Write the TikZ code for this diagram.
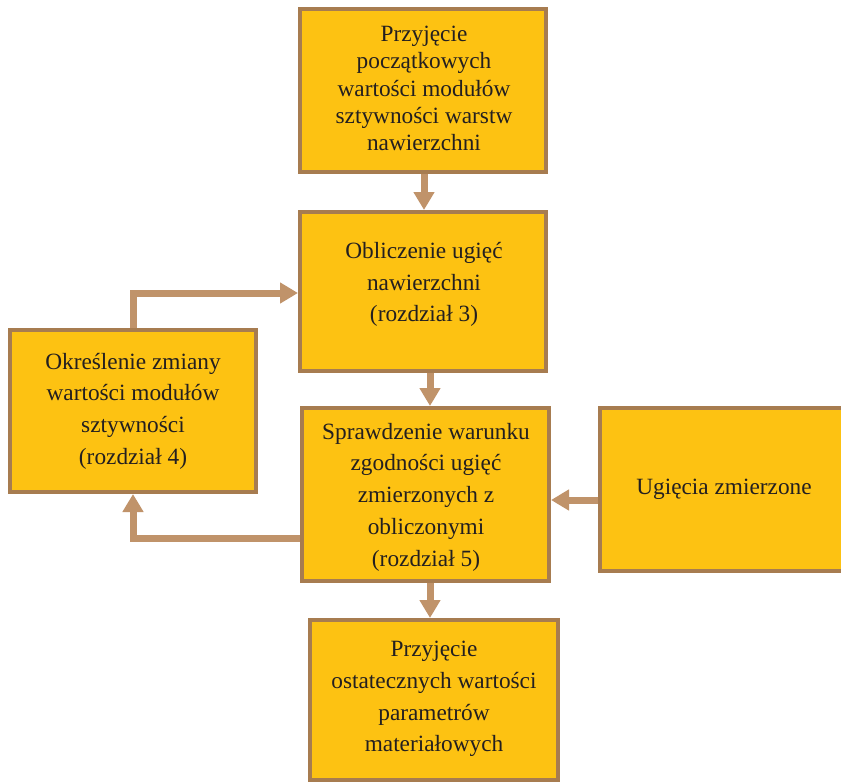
\documentclass[tikz,border=0pt]{standalone}
\usepackage{fontspec}
\setmainfont{Liberation Serif}
\usetikzlibrary{arrows.meta}
\definecolor{boxfill}{HTML}{FDC212}
\definecolor{boxline}{HTML}{A77C50}
\definecolor{arrowc}{HTML}{C0936A}
\definecolor{txt}{HTML}{231F20}
\begin{document}
\begin{tikzpicture}[x=1pt,y=-1pt,
  box/.style={draw=boxline, fill=boxfill, line width=4pt, inner sep=0pt},
  lbl/.style={text=txt, align=center, inner sep=0pt, font=\fontsize{23.3}{31.7}\selectfont},
  tight/.style={font=\fontsize{23.3}{27.3}\selectfont},
  flow/.style={draw=arrowc, line width=7pt, -{Triangle[length=18pt,width=20pt]}}]
\useasboundingbox (0,0) rectangle (841,784);
% boxes
\node[box, minimum width=246pt, minimum height=163pt] (b1) at (423,90.5) {};
\node[box, minimum width=246pt, minimum height=159pt] (b2) at (423,291.5) {};
\node[box, minimum width=247pt, minimum height=173pt] (b3) at (425.5,494.5) {};
\node[box, minimum width=246pt, minimum height=162pt] (bl) at (133,411) {};
\node[box, minimum width=248pt, minimum height=163pt] (br) at (724,489.5) {};
\node[box, minimum width=248pt, minimum height=160pt] (bb) at (434,700) {};
% texts
\node[lbl, tight] (t1) at (424,88.5) {Przyjęcie\\początkowych\\wartości modułów\\sztywności warstw\\nawierzchni};
\node[lbl] (t2) at (424,284.5) {Obliczenie ugięć\\nawierzchni\\(rozdział 3)};
\node[lbl] (t3) at (426,497) {Sprawdzenie warunku\\zgodności ugięć\\zmierzonych z\\obliczonymi\\(rozdział 5)};
\node[lbl] (tl) at (133,411) {Określenie zmiany\\wartości modułów\\sztywności\\(rozdział 4)};
\node[lbl] (tr) at (724,489) {Ugięcia zmierzone};
\node[lbl] (tb) at (434,699) {Przyjęcie\\ostatecznych wartości\\parametrów\\materiałowych};
% helper coordinates
\coordinate (x1) at (424,0);
\coordinate (x2) at (430,0);
\coordinate (y4) at (0,500);
\coordinate (y5) at (0,538);
\coordinate (y6) at (0,293);
% connectors
\draw[flow] (b1.south -| x1) -- (b2.north -| x1);
\draw[flow] (b2.south -| x2) -- (b3.north -| x2);
\draw[flow] (b3.south -| x2) -- (bb.north -| x2);
\draw[flow] (br.west |- y4) -- (b3.east |- y4);
\draw[flow] (b3.west |- y5) -| (bl.south);
\draw[flow] (bl.north) |- (b2.west |- y6);
\end{tikzpicture}
\end{document}
